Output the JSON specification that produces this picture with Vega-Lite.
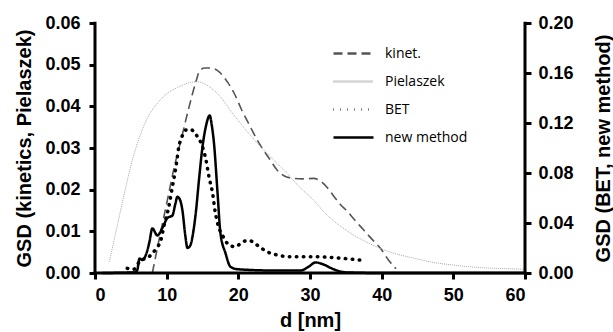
{
  "$schema": "https://vega.github.io/schema/vega-lite/v6.json",
  "width": 430,
  "height": 250,
  "autosize": {"type": "none"},
  "padding": {"left": 95, "top": 23, "right": 88, "bottom": 59},
  "config": {
    "view": {"stroke": "transparent", "strokeWidth": 0},
    "axis": {
      "grid": false,
      "domain": false,
      "ticks": true,
      "tickColor": "#000000",
      "tickWidth": 3,
      "tickSize": 6,
      "labelFont": "Liberation Sans",
      "labelFontWeight": "bold",
      "labelFontSize": 18,
      "labelColor": "#000000",
      "titleFont": "Liberation Sans",
      "titleFontWeight": "bold",
      "titleFontSize": 20,
      "titleColor": "#000000"
    }
  },
  "data": {
    "values": [
      {"series": "kinet.", "d": 8.0, "v": 0.0},
      {"series": "kinet.", "d": 9.0, "v": 0.0085},
      {"series": "kinet.", "d": 10.1, "v": 0.0175},
      {"series": "kinet.", "d": 11.0, "v": 0.025},
      {"series": "kinet.", "d": 12.0, "v": 0.0319},
      {"series": "kinet.", "d": 13.0, "v": 0.039},
      {"series": "kinet.", "d": 14.1, "v": 0.046},
      {"series": "kinet.", "d": 14.6, "v": 0.0485},
      {"series": "kinet.", "d": 15.3, "v": 0.0492},
      {"series": "kinet.", "d": 16.2, "v": 0.0492},
      {"series": "kinet.", "d": 17.0, "v": 0.0487},
      {"series": "kinet.", "d": 17.5, "v": 0.048},
      {"series": "kinet.", "d": 18.5, "v": 0.0458},
      {"series": "kinet.", "d": 19.4, "v": 0.0432},
      {"series": "kinet.", "d": 20.5, "v": 0.039},
      {"series": "kinet.", "d": 21.7, "v": 0.035},
      {"series": "kinet.", "d": 22.6, "v": 0.032},
      {"series": "kinet.", "d": 23.5, "v": 0.0295},
      {"series": "kinet.", "d": 24.5, "v": 0.027},
      {"series": "kinet.", "d": 25.4, "v": 0.0247},
      {"series": "kinet.", "d": 26.3, "v": 0.0234},
      {"series": "kinet.", "d": 27.3, "v": 0.0228},
      {"series": "kinet.", "d": 29.0, "v": 0.0226},
      {"series": "kinet.", "d": 30.5, "v": 0.0227},
      {"series": "kinet.", "d": 31.5, "v": 0.022},
      {"series": "kinet.", "d": 32.4, "v": 0.0205},
      {"series": "kinet.", "d": 33.3, "v": 0.0185},
      {"series": "kinet.", "d": 34.2, "v": 0.0165},
      {"series": "kinet.", "d": 35.2, "v": 0.0148},
      {"series": "kinet.", "d": 36.3, "v": 0.0126},
      {"series": "kinet.", "d": 37.5, "v": 0.0103},
      {"series": "kinet.", "d": 38.7, "v": 0.008},
      {"series": "kinet.", "d": 39.8, "v": 0.006},
      {"series": "kinet.", "d": 41.0, "v": 0.003},
      {"series": "kinet.", "d": 42.0, "v": 0.001},
      {"series": "Pielaszek", "d": 2.0, "v": 0.0027},
      {"series": "Pielaszek", "d": 3.0, "v": 0.0105},
      {"series": "Pielaszek", "d": 4.1, "v": 0.0191},
      {"series": "Pielaszek", "d": 5.2, "v": 0.027},
      {"series": "Pielaszek", "d": 6.4, "v": 0.0335},
      {"series": "Pielaszek", "d": 7.5, "v": 0.0378},
      {"series": "Pielaszek", "d": 8.7, "v": 0.0407},
      {"series": "Pielaszek", "d": 10.0, "v": 0.043},
      {"series": "Pielaszek", "d": 11.5, "v": 0.0445},
      {"series": "Pielaszek", "d": 13.0, "v": 0.0456},
      {"series": "Pielaszek", "d": 14.3, "v": 0.0459},
      {"series": "Pielaszek", "d": 15.5, "v": 0.0452},
      {"series": "Pielaszek", "d": 16.5, "v": 0.044},
      {"series": "Pielaszek", "d": 17.5, "v": 0.0423},
      {"series": "Pielaszek", "d": 18.9, "v": 0.039},
      {"series": "Pielaszek", "d": 20.3, "v": 0.0359},
      {"series": "Pielaszek", "d": 21.7, "v": 0.033},
      {"series": "Pielaszek", "d": 23.1, "v": 0.0303},
      {"series": "Pielaszek", "d": 25.0, "v": 0.027},
      {"series": "Pielaszek", "d": 26.8, "v": 0.0239},
      {"series": "Pielaszek", "d": 28.5, "v": 0.0207},
      {"series": "Pielaszek", "d": 30.5, "v": 0.0175},
      {"series": "Pielaszek", "d": 32.2, "v": 0.0142},
      {"series": "Pielaszek", "d": 34.2, "v": 0.0113},
      {"series": "Pielaszek", "d": 36.0, "v": 0.0092},
      {"series": "Pielaszek", "d": 37.8, "v": 0.0075},
      {"series": "Pielaszek", "d": 39.8, "v": 0.0059},
      {"series": "Pielaszek", "d": 42.0, "v": 0.0046},
      {"series": "Pielaszek", "d": 44.4, "v": 0.0036},
      {"series": "Pielaszek", "d": 47.0, "v": 0.0026},
      {"series": "Pielaszek", "d": 50.0, "v": 0.0019},
      {"series": "Pielaszek", "d": 53.7, "v": 0.0013},
      {"series": "Pielaszek", "d": 58.0, "v": 0.001},
      {"series": "Pielaszek", "d": 60.0, "v": 0.0009},
      {"series": "BET", "d": 4.5, "v": 0.0037},
      {"series": "BET", "d": 5.4, "v": 0.003},
      {"series": "BET", "d": 6.4, "v": 0.0104},
      {"series": "BET", "d": 7.3, "v": 0.012},
      {"series": "BET", "d": 8.0, "v": 0.0157},
      {"series": "BET", "d": 8.6, "v": 0.02},
      {"series": "BET", "d": 9.2, "v": 0.0264},
      {"series": "BET", "d": 9.6, "v": 0.037},
      {"series": "BET", "d": 10.3, "v": 0.053},
      {"series": "BET", "d": 10.8, "v": 0.069},
      {"series": "BET", "d": 11.3, "v": 0.085},
      {"series": "BET", "d": 11.7, "v": 0.101},
      {"series": "BET", "d": 12.2, "v": 0.11},
      {"series": "BET", "d": 12.7, "v": 0.1144},
      {"series": "BET", "d": 13.3, "v": 0.115},
      {"series": "BET", "d": 13.8, "v": 0.113},
      {"series": "BET", "d": 14.3, "v": 0.109},
      {"series": "BET", "d": 14.8, "v": 0.104},
      {"series": "BET", "d": 15.5, "v": 0.09},
      {"series": "BET", "d": 15.9, "v": 0.077},
      {"series": "BET", "d": 16.4, "v": 0.064},
      {"series": "BET", "d": 16.8, "v": 0.048},
      {"series": "BET", "d": 17.3, "v": 0.036},
      {"series": "BET", "d": 17.8, "v": 0.03},
      {"series": "BET", "d": 18.7, "v": 0.0224},
      {"series": "BET", "d": 19.6, "v": 0.021},
      {"series": "BET", "d": 20.6, "v": 0.025},
      {"series": "BET", "d": 21.5, "v": 0.026},
      {"series": "BET", "d": 22.6, "v": 0.0224},
      {"series": "BET", "d": 24.0, "v": 0.017},
      {"series": "BET", "d": 25.4, "v": 0.0144},
      {"series": "BET", "d": 27.3, "v": 0.013},
      {"series": "BET", "d": 30.5, "v": 0.013},
      {"series": "BET", "d": 32.9, "v": 0.0125},
      {"series": "BET", "d": 35.0, "v": 0.0115},
      {"series": "BET", "d": 37.0, "v": 0.0104},
      {"series": "new method", "d": 1.0, "v": 0.0},
      {"series": "new method", "d": 5.5, "v": 0.0005},
      {"series": "new method", "d": 5.9, "v": 0.0024},
      {"series": "new method", "d": 6.2, "v": 0.0117},
      {"series": "new method", "d": 6.6, "v": 0.0104},
      {"series": "new method", "d": 7.3, "v": 0.018},
      {"series": "new method", "d": 7.6, "v": 0.025},
      {"series": "new method", "d": 8.0, "v": 0.0357},
      {"series": "new method", "d": 8.7, "v": 0.03},
      {"series": "new method", "d": 9.4, "v": 0.036},
      {"series": "new method", "d": 10.1, "v": 0.044},
      {"series": "new method", "d": 10.8, "v": 0.046},
      {"series": "new method", "d": 11.2, "v": 0.055},
      {"series": "new method", "d": 11.5, "v": 0.061},
      {"series": "new method", "d": 11.9, "v": 0.058},
      {"series": "new method", "d": 12.2, "v": 0.05},
      {"series": "new method", "d": 12.6, "v": 0.03},
      {"series": "new method", "d": 12.9, "v": 0.02},
      {"series": "new method", "d": 13.3, "v": 0.022},
      {"series": "new method", "d": 13.6, "v": 0.029},
      {"series": "new method", "d": 14.1, "v": 0.05},
      {"series": "new method", "d": 14.5, "v": 0.074},
      {"series": "new method", "d": 15.0, "v": 0.101},
      {"series": "new method", "d": 15.5, "v": 0.118},
      {"series": "new method", "d": 16.0, "v": 0.126},
      {"series": "new method", "d": 16.3, "v": 0.118},
      {"series": "new method", "d": 16.6, "v": 0.104},
      {"series": "new method", "d": 17.1, "v": 0.064},
      {"series": "new method", "d": 17.5, "v": 0.032},
      {"series": "new method", "d": 18.2, "v": 0.016},
      {"series": "new method", "d": 18.9, "v": 0.005},
      {"series": "new method", "d": 19.9, "v": 0.003},
      {"series": "new method", "d": 25.0, "v": 0.002},
      {"series": "new method", "d": 28.7, "v": 0.002},
      {"series": "new method", "d": 29.8, "v": 0.005},
      {"series": "new method", "d": 30.8, "v": 0.0085},
      {"series": "new method", "d": 31.8, "v": 0.007},
      {"series": "new method", "d": 33.3, "v": 0.003},
      {"series": "new method", "d": 35.0, "v": 0.0005},
      {"series": "new method", "d": 40.0, "v": 0.0},
      {"series": "new method", "d": 60.0, "v": 0.0}
    ]
  },
  "layer": [
    {
      "encoding": {
        "x": {"field": "d", "type": "quantitative", "scale": {"domain": [0, 60]},
              "axis": {"values": [0, 10, 20, 30, 40, 50, 60], "title": "d  [nm]", "labelPadding": 7, "titlePadding": 6}},
        "y": {"field": "v", "type": "quantitative", "scale": {"domain": [0, 0.06]},
              "axis": {"orient": "left", "values": [0, 0.01, 0.02, 0.03, 0.04, 0.05, 0.06], "format": ".2f", "title": "GSD (kinetics, Pielaszek)", "labelPadding": 9, "titlePadding": 10}}
      },
      "layer": [
        {"transform": [{"filter": "datum.series === 'kinet.'"}], "mark": {"type": "line", "interpolate": "monotone", "strokeWidth": 1.6},
         "encoding": {
          "color": {
            "field": "series", "type": "nominal", "sort": null,
            "scale": {"domain": ["kinet.", "Pielaszek", "BET", "new method"], "range": ["#555555", "#aaaaaa", "#000000", "#000000"]},
            "legend": {
              "title": null, "orient": "none", "legendX": 247, "legendY": 19,
              "symbolType": "M-2,0H2", "symbolSize": 400, "symbolStrokeWidth": 2.5,
              "labelFont": "Open Sans", "labelFontSize": 14, "labelColor": "#000000",
              "labelOffset": 20, "rowPadding": 9
            }
          },
          "strokeDash": {
            "field": "series", "type": "nominal", "sort": null,
            "scale": {"domain": ["kinet.", "Pielaszek", "BET", "new method"], "range": [[9, 5], [1, 1], [0.5, 6.5], [1, 0]]},
            "legend": {"title": null}
          }
         }},
        {"transform": [{"filter": "datum.series === 'Pielaszek'"}], "mark": {"type": "line", "interpolate": "monotone", "strokeWidth": 1},
         "encoding": {
          "color": {"field": "series", "type": "nominal", "sort": null},
          "strokeDash": {"field": "series", "type": "nominal", "sort": null}
         }},
        {"transform": [{"filter": "datum.series === 'kinet.' && datum.d === 8"}], "mark": {"type": "rect", "fill": "#000000"},
         "encoding": {"x": {"datum": -0.21}, "x2": {"datum": 60.21}, "y": {"datum": -0.00036}, "y2": {"datum": 0.00036}}},
        {"transform": [{"filter": "datum.series === 'kinet.' && datum.d === 8"}], "mark": {"type": "rect", "fill": "#000000"},
         "encoding": {"x": {"datum": -0.21}, "x2": {"datum": 0.21}, "y": {"datum": 0}, "y2": {"datum": 0.0603}}}
      ]
    },
    {
      "encoding": {
        "x": {"field": "d", "type": "quantitative", "scale": {"domain": [0, 60]}},
        "y": {"field": "v", "type": "quantitative", "scale": {"domain": [0, 0.2]},
              "axis": {"orient": "right", "values": [0, 0.04, 0.08, 0.12, 0.16, 0.2], "format": ".2f", "title": "GSD (BET, new method)", "titleAngle": 270, "titleBaseline": "top", "labelPadding": 7, "titlePadding": 20}}
      },
      "layer": [
        {"transform": [{"filter": "datum.series === 'BET'"}], "mark": {"type": "line", "interpolate": "monotone", "strokeWidth": 3.5, "strokeCap": "round"},
         "encoding": {
          "color": {"field": "series", "type": "nominal", "sort": null},
          "strokeDash": {"field": "series", "type": "nominal", "sort": null}
         }},
        {"transform": [{"filter": "datum.series === 'new method'"}], "mark": {"type": "line", "interpolate": "monotone", "strokeWidth": 2.5},
         "encoding": {
          "color": {"field": "series", "type": "nominal", "sort": null},
          "strokeDash": {"field": "series", "type": "nominal", "sort": null}
         }},
        {"transform": [{"filter": "datum.series === 'kinet.' && datum.d === 8"}], "mark": {"type": "rect", "fill": "#000000"},
         "encoding": {"x": {"datum": 59.79}, "x2": {"datum": 60.21}, "y": {"datum": 0}, "y2": {"datum": 0.201}}}
      ]
    }
  ],
  "resolve": {"scale": {"y": "independent"}}
}
